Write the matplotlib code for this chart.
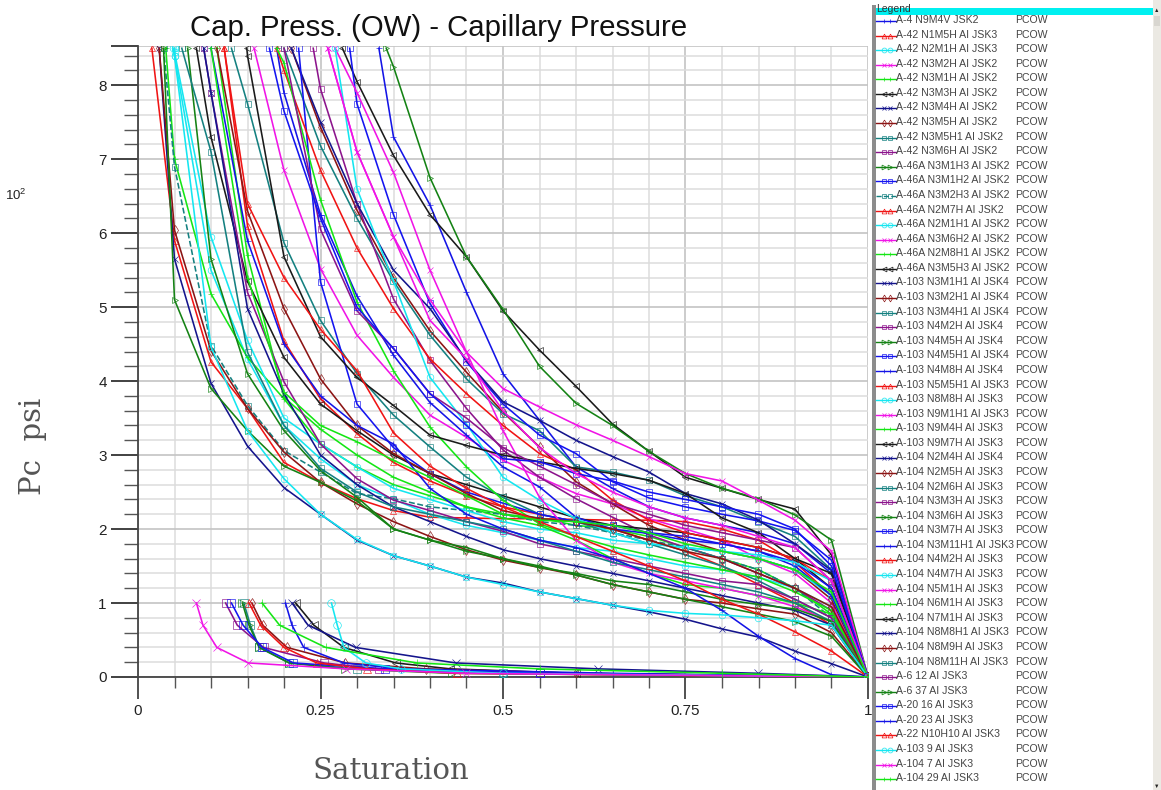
import numpy as np
import matplotlib
matplotlib.use("Agg")
import matplotlib.pyplot as plt

plt.rcParams['font.family'] = ['Liberation Sans', 'DejaVu Sans']

labels = ["A-4 N9M4V JSK2", "A-42 N1M5H AI JSK3", "A-42 N2M1H AI JSK3", "A-42 N3M2H AI JSK2",
          "A-42 N3M1H AI JSK2", "A-42 N3M3H AI JSK2", "A-42 N3M4H AI JSK2", "A-42 N3M5H AI JSK2",
          "A-42 N3M5H1 AI JSK2", "A-42 N3M6H AI JSK2", "A-46A N3M1H3 AI JSK2", "A-46A N3M1H2 AI JSK2",
          "A-46A N3M2H3 AI JSK2", "A-46A N2M7H AI JSK2", "A-46A N2M1H1 AI JSK2", "A-46A N3M6H2 AI JSK2",
          "A-46A N2M8H1 AI JSK2", "A-46A N3M5H3 AI JSK2", "A-103 N3M1H1 AI JSK4", "A-103 N3M2H1 AI JSK4",
          "A-103 N3M4H1 AI JSK4", "A-103 N4M2H AI JSK4", "A-103 N4M5H AI JSK4", "A-103 N4M5H1 AI JSK4",
          "A-103 N4M8H AI JSK4", "A-103 N5M5H1 AI JSK3", "A-103 N8M8H AI JSK3", "A-103 N9M1H1 AI JSK3",
          "A-103 N9M4H AI JSK3", "A-103 N9M7H AI JSK3", "A-104 N2M4H AI JSK4", "A-104 N2M5H AI JSK3",
          "A-104 N2M6H AI JSK3", "A-104 N3M3H AI JSK3", "A-104 N3M6H AI JSK3", "A-104 N3M7H AI JSK3",
          "A-104 N3M11H1 AI JSK3", "A-104 N4M2H AI JSK3", "A-104 N4M7H AI JSK3", "A-104 N5M1H AI JSK3",
          "A-104 N6M1H AI JSK3", "A-104 N7M1H AI JSK3", "A-104 N8M8H1 AI JSK3", "A-104 N8M9H AI JSK3",
          "A-104 N8M11H AI JSK3", "A-6 12 AI JSK3", "A-6 37 AI JSK3", "A-20 16 AI JSK3",
          "A-20 23 AI JSK3", "A-22 N10H10 AI JSK3", "A-103 9 AI JSK3", "A-104 7 AI JSK3", "A-104 29 AI JSK3"]

# saturation steps of the measured points, the rows below line up from the end
sw_steps = [.05, .1, .15, .2, .25, .3, .35, .4, .45, .5, .55, .6, .65, .7, .75, .8, .85, .9, .95, 1]

# where each curve leaves the top of the plot (Pc = 8.5)
top_sw = [.33, .019, .05, .159, .038, .28, .029, .21, .2, .24, .34, .29, .035, .118, .05, .27, .108, .08, .21, .029,
          .128, .09, .068, .22, .19, .19, .27, .26, .19, .149, .09, .108, .06, .2, .035, .18, .1, .118, .048, .26, .1]

c01 = [7.3, 6.38, 5.2, 4.1, 3.47, 2.84, 2.55, 2.3, 2.15, 2.05, 1.95, 1.8, 1.4, 0]
c02 = [5.9, 4.26, 3.63, 2.9, 2.63, 2.41, 2.25, 2.16, 2.15, 2.14, 2.14, 2.13, 2.12, 2.12, 2.1, 2.0, 1.85, 1.55, 1.1, 0]
c03 = [8.4, 5.5, 4.3, 3.4, 2.95, 2.6, 2.4, 2.2, 2.05, 1.95, 1.85, 1.75, 1.7, 1.6, 1.5, 1.45, 1.35, 1.2, .95, 0]
c04 = [6.85, 5.52, 4.62, 4.05, 3.54, 3.24, 2.93, 2.7, 2.48, 2.34, 2.14, 2.0, 1.85, 1.6, 1.4, 1.0, 0]
c05 = [7.0, 5.18, 4.32, 3.76, 3.15, 2.84, 2.6, 2.45, 2.3, 2.2, 2.15, 2.05, 2.0, 1.9, 1.75, 1.6, 1.45, 1.2, .85, 0]
c06 = [8.05, 7.05, 6.25, 5.68, 4.95, 4.42, 3.93, 3.42, 3.05, 2.7, 2.55, 2.4, 2.27, 1.65, 0]
c07 = [5.65, 3.97, 3.12, 2.56, 2.2, 1.85, 1.64, 1.5, 1.35, 1.27, 1.15, 1.06, .97, .88, .78, .65, .54, .35, .18, 0]
c08 = [7.43, 6.31, 5.4, 4.68, 4.12, 3.58, 3.11, 2.64, 2.34, 2.05, 1.85, 1.7, 1.6, 1.45, 1.05, 0]
c09 = [7.18, 6.2, 5.35, 4.62, 4.03, 3.56, 3.33, 2.84, 2.77, 2.66, 2.45, 2.3, 2.1, 1.9, 1.45, 0]
c10 = [7.95, 6.4, 5.11, 4.28, 3.63, 3.07, 2.7, 2.41, 2.16, 1.92, 1.75, 1.6, 1.4, 1.2, .9, 0]
c11 = [8.25, 6.75, 5.68, 4.97, 4.2, 3.7, 3.4, 3.05, 2.75, 2.55, 2.41, 2.19, 1.85, 0]
c12 = [7.75, 6.25, 5.05, 4.26, 3.69, 3.27, 3.02, 2.64, 2.42, 2.3, 2.2, 2.11, 1.98, 1.58, 0]
c13 = [6.9, 4.48, 3.67, 3.06, 2.77, 2.48, 2.41, 2.3, 2.25, 2.2, 2.1, 2.05, 1.95, 1.85, 1.75, 1.6, 1.45, 1.2, .8, 0]
c14 = [6.1, 4.54, 3.76, 3.29, 2.9, 2.65, 2.45, 2.3, 2.2, 2.1, 2.0, 1.85, 1.7, 1.5, 1.25, 1.0, .7, 0]
c15 = [8.45, 5.95, 4.55, 3.5, 3.15, 2.84, 2.55, 2.4, 2.25, 2.1, 2.0, 1.95, 1.85, 1.8, 1.75, 1.7, 1.6, 1.45, 1.1, 0]
c16 = [7.9, 6.82, 5.5, 4.39, 3.9, 3.65, 3.41, 3.2, 2.98, 2.75, 2.65, 2.39, 2.12, 1.7, 0]
c17 = [5.7, 3.78, 3.35, 3.0, 2.7, 2.5, 2.3, 2.15, 2.05, 1.85, 1.6, 1.4, 1.25, 1.2, 1.1, 1.0, .85, 0]
c18 = [7.3, 5.35, 4.32, 3.69, 3.33, 3.0, 2.75, 2.6, 2.45, 2.3, 2.15, 2.05, 2.0, 1.95, 1.85, 1.75, 1.6, 1.2, 0]
c19 = [7.5, 6.4, 5.5, 4.98, 4.28, 3.72, 3.47, 3.2, 2.98, 2.77, 2.48, 2.34, 2.12, 1.8, 1.44, 0]
c20 = [6.04, 4.41, 3.63, 3.04, 2.63, 2.34, 2.1, 1.9, 1.72, 1.58, 1.48, 1.38, 1.25, 1.15, 1.05, 1.0, .92, .85, .6, 0]
c21 = [7.75, 5.87, 4.82, 4.1, 3.54, 3.11, 2.7, 2.43, 2.2, 2.1, 1.95, 1.8, 1.65, 1.5, 1.3, 1.05, .8, 0]
c22 = [7.9, 5.2, 3.99, 3.15, 2.68, 2.39, 2.25, 2.1, 1.97, 1.8, 1.7, 1.6, 1.5, 1.4, 1.3, 1.25, 1.05, .8, 0]
c23 = [5.65, 4.1, 3.33, 2.79, 2.43, 2.0, 1.85, 1.7, 1.6, 1.5, 1.38, 1.25, 1.15, 1.05, .95, .85, .75, .55, 0]
c24 = [5.34, 3.69, 3.1, 2.75, 2.5, 2.35, 2.2, 2.1, 2.05, 1.95, 1.9, 1.8, 1.7, 1.55, 1.2, 0]
c25 = [7.9, 6.25, 5.15, 4.35, 3.71, 3.27, 2.84, 2.57, 2.16, 2.0, 1.94, 1.85, 1.8, 1.7, 1.5, 1.1, 0]
c26 = [8.2, 6.85, 5.8, 4.98, 4.3, 3.83, 3.4, 3.02, 2.8, 2.39, 2.12, 1.95, 1.85, 1.75, 1.6, 1.3, 0]
c27 = [6.6, 5.35, 4.05, 3.42, 2.7, 2.39, 2.14, 1.95, 1.8, 1.75, 1.7, 1.65, 1.55, 1.3, 0]
c28 = [7.1, 5.95, 5.1, 4.39, 3.33, 2.43, 1.85, 1.55, 1.4, 1.3, 1.2, 1.1, .95, .75, 0]
c29 = [8.3, 6.45, 5.07, 4.14, 3.38, 2.84, 2.39, 2.07, 1.9, 1.76, 1.65, 1.55, 1.45, 1.35, 1.15, .9, 0]
c30 = [8.4, 5.68, 4.6, 4.05, 3.67, 3.27, 3.13, 3.0, 2.91, 2.82, 2.75, 2.66, 2.48, 2.15, 1.95, 1.6, 1.4, 0]
c31 = [7.9, 4.98, 3.83, 3.0, 2.6, 2.3, 2.1, 1.9, 1.72, 1.6, 1.5, 1.4, 1.3, 1.2, 1.1, 1.0, .9, .7, 0]
c32 = [6.3, 4.98, 4.03, 3.4, 3.02, 2.75, 2.48, 2.25, 2.14, 2.1, 2.0, 1.85, 1.7, 1.6, 1.4, 1.2, .95, 0]
c33 = [7.1, 4.39, 3.4, 2.82, 2.5, 2.3, 2.2, 2.1, 2.0, 1.85, 1.7, 1.55, 1.45, 1.35, 1.25, 1.15, 1.0, .75, 0]
c34 = [6.05, 4.95, 4.44, 3.83, 3.5, 3.1, 2.85, 2.6, 2.35, 2.2, 2.05, 1.95, 1.85, 1.75, 1.3, 0]
c35 = [5.1, 3.9, 3.33, 2.85, 2.63, 2.38, 2.0, 1.85, 1.75, 1.6, 1.48, 1.4, 1.3, 1.25, 1.15, 1.05, .98, .92, .75, 0]
c36 = [7.65, 6.2, 5.0, 4.44, 3.83, 3.4, 2.95, 2.91, 2.75, 2.65, 2.5, 2.4, 2.3, 2.2, 2.0, 1.5, 0]
c37 = [5.9, 4.5, 3.8, 3.4, 3.15, 2.55, 2.2, 2.0, 1.85, 1.75, 1.6, 1.4, 1.2, .9, .55, .25, .03, 0]
c38 = [6.4, 5.4, 4.7, 4.14, 3.3, 2.85, 2.55, 2.3, 2.1, 1.9, 1.7, 1.5, 1.3, 1.05, .85, .61, .35, 0]
c39 = [8.4, 4.46, 3.33, 2.68, 2.2, 1.86, 1.64, 1.5, 1.35, 1.25, 1.15, 1.06, .97, .9, .86, .84, .8, .76, .7, 0]
c40 = [7.1, 5.95, 4.82, 4.3, 3.6, 3.1, 2.75, 2.5, 2.3, 2.15, 2.05, 1.9, 1.75, 1.3, 0]
c41 = [5.4, 3.85, 3.4, 3.18, 2.93, 2.7, 2.45, 2.2, 2.12, 2.1, 2.05, 1.95, 1.8, 1.7, 1.6, 1.45, 1.15, 0]
upper_pc = [c01, c02, c03, c04, c05, c06, c07, c08, c09, c10, c11, c12, c13, c14, c15, c16, c17, c18, c19, c20, c21,
            c22, c23, c24, c25, c26, c27, c28, c29, c30, c31, c32, c33, c34, c35, c36, c37, c38, c39, c40, c41]

# the low pressure group, these only go up to Pc = 1
low_pc = [1, .7, .4, .19, .11, .05, 0]
low_black = [.216, .241, .282, .353, .428, .6, 1]
low_navy = [.211, .233, .298, .435, .63, .85, 1]
low_darkred = [.156, .171, .204, .284, .394, .6, 1]
low_teal = [.145, .154, .166, .207, .3, .5, 1]
low_purple = [.12, .136, .172, .255, .33, .55, 1]
low_green = [.143, .152, .166, .207, .284, .43, 1]
low_bluesq = [.128, .144, .17, .213, .339, .55, 1]
low_blue = [.202, .211, .227, .282, .36, .65, 1]
low_red = [.152, .168, .2, .245, .314, .437, 1]
low_cyan = [.265, .273, .282, .312, .36, .5, 1]
low_magenta = [.08, .089, .108, .151, .285, .45, 1]
low_lime = [.17, .194, .257, .382, .55, .8, 1]
lower_sw = [low_black, low_navy, low_darkred, low_teal, low_purple, low_green, low_bluesq, low_blue, low_red,
            low_cyan, low_magenta, low_lime]

base_colors = ['#1414e6', '#f01414', '#14e6f0', '#f014e6', '#14e614', '#1a1a1a', '#14148c', '#8c1414', '#148080',
               '#8c148c', '#148214', '#1414f0']
base_markers = ['+', '^', 'o', 'x', '+', '<', 'x', 'd', 's', 's', '>', 's']


def style(i):
    if i == 12:
        return '#148080', 's', '--'
    k = i if i < 12 else (i - 12) % 12
    return base_colors[k], base_markers[k], '-'


fig = plt.figure(figsize=(11.61, 7.9), dpi=100)
W, H = 1161.0, 790.0
ax = fig.add_axes([138 / W, 1 - 677 / H, 730 / W, 631 / H])
ax.set_xlim(0, 1)
ax.set_ylim(0, 8.53)

for i, pc in enumerate(upper_pc):
    sw = [top_sw[i]] + sw_steps[-len(pc):]
    col, mk, ls = style(i)
    ax.plot(sw, [8.5] + pc, color=col, ls=ls, lw=1.15, marker=mk, ms=4.8, mew=0.45, mfc='none', zorder=3)
for j, sw in enumerate(lower_sw):
    col, mk, ls = style(41 + j)
    ax.plot(sw, low_pc, color=col, ls=ls, lw=1.15, marker=mk, ms=5.5, mew=0.45, mfc='none', zorder=3)

ax.set_xticks([0, .25, .5, .75, 1])
ax.set_xticklabels(['0', '0.25', '0.5', '0.75', '1'])
ax.set_xticks(np.arange(0, 1.01, .05), minor=True)
ax.set_yticks(list(range(0, 9)) + [8.53])
ax.set_yticklabels([str(v) for v in range(0, 9)] + [''])
ax.set_yticks(np.arange(0, 8.5, .2), minor=True)
ax.grid(which='minor', color='#dcdcdc', lw=1.1, zorder=1)
ax.grid(which='major', color='#c4c4c4', lw=1.2, zorder=1)
ax.set_axisbelow(True)
ax.tick_params(axis='y', which='major', length=19.5, width=1.3, color='#333333', labelsize=11, pad=3, labelcolor='#222222')
ax.tick_params(axis='y', which='minor', length=10, width=1, color='#555555')
ax.tick_params(axis='x', which='major', length=15.5, width=1.2, color='#333333', labelsize=11, pad=4, labelcolor='#222222')
ax.tick_params(axis='x', which='minor', length=8, width=1, color='#555555')
for s in ['top', 'right']:
    ax.spines[s].set_visible(False)
for s in ['left', 'bottom']:
    ax.spines[s].set_color('#444444')
    ax.spines[s].set_linewidth(1.3)

fig.text(439 / W, 1 - 28 / H, "Cap. Press. (OW) - Capillary Pressure", ha='center', va='center', fontsize=21.2, color='#111111')
fig.text(16 / W, 1 - 195 / H, r"$\mathregular{10^2}$", ha='center', va='center', fontsize=9.5, color='#222222')
fig.text(391 / W, 1 - 771 / H, "Saturation", ha='center', va='center', fontsize=21, family='DejaVu Serif', color='#555555')
fig.text(33 / W, 1 - 446 / H, "Pc  psi", ha='center', va='center', rotation=90, fontsize=21, family='DejaVu Serif', color='#555555')

# legend panel drawn in pixel coordinates
leg = fig.add_axes([0, 0, 1, 1], facecolor='none')
leg.set_xlim(0, W)
leg.set_ylim(H, 0)
leg.axis('off')
leg.fill_between([1153, 1161], 0, H, color='#ebe9e3', lw=0)
leg.fill_between([1154, 1160], 16, 26, color='#d8d6d0', lw=0)
leg.fill_between([872, 876], 5, H, color='#8c8c8c', lw=0)
leg.fill_between([876, 1153], 8, 15, color='#00f0f0', lw=0)
leg.text(876, 9, "Legend", fontsize=7.5, color='#333333', va='center', clip_on=True)
leg.text(1157, 11, "\u25b2", fontsize=4, ha='center', va='center', color='#222222')
leg.text(1157, 786, "\u25bc", fontsize=4, ha='center', va='center', color='#222222')
for i, name in enumerate(labels):
    y = 20 + i * 14.58
    col, mk, ls = style(i)
    leg.plot([876, 896], [y + 1, y + 1], color=col, lw=1, ls=ls)
    leg.plot([884, 890], [y + 1, y + 1], ls='none', color=col, marker=mk, ms=3.5, mew=0.5, mfc='none')
    leg.text(896, y, name, fontsize=7.6, va='center', color='#444444')
    leg.text(1015, y, "PCOW", fontsize=7.6, va='center', color='#444444')

fig.savefig("out.png", dpi=100)
